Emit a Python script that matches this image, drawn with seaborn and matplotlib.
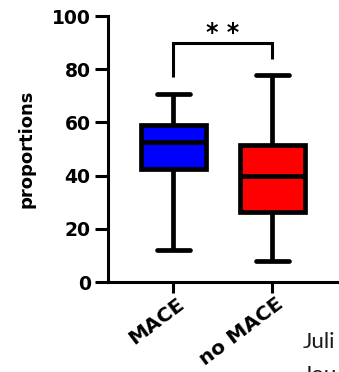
import numpy as np
import pandas as pd
import matplotlib
matplotlib.use("Agg")
import matplotlib.pyplot as plt
import matplotlib.transforms as mtransforms
import seaborn as sns

# ---- data (five-number summaries) ----
categories = ["MACE", "no MACE"]
minimum = [12.0, 8.0]
q1 = [42.3, 26.3]
median = [52.8, 40.0]
q3 = [59.0, 51.5]
maximum = [70.8, 77.7]
box_colors = ["#0000FF", "#FF0000"]
yticks = [0, 20, 40, 60, 80, 100]
y_label = "proportions"
sig_label = "* *"

# build a tiny table whose quartiles are exactly the summary values
rows = []
for i, c in enumerate(categories):
    for v in (minimum[i], q1[i], median[i], q3[i], maximum[i]):
        rows.append({"group": c, "value": v})
df = pd.DataFrame(rows)

sns.set_style("ticks")
plt.rcParams["font.family"] = ["DejaVu Sans"]
plt.rcParams["axes.labelcolor"] = "black"
plt.rcParams["text.color"] = "black"

fig = plt.figure(figsize=(3.39, 3.72), dpi=100)
ax = fig.add_axes([108 / 339, 90 / 372, 231 / 339, 266 / 372])

sns.boxplot(data=df, x="group", y="value", hue="group", palette=box_colors,
            order=categories, hue_order=categories, width=0.66, whis=(0, 100),
            linewidth=3.4, linecolor="black", saturation=1, showfliers=False,
            legend=False, ax=ax)

ax.set_xlim(-0.66, 1.674)
ax.set_ylim(0, 100)
ax.set_yticks(yticks)
ax.set_yticklabels([str(t) for t in yticks], fontsize=13.5, fontweight="bold")
ax.set_xlabel("")
ax.set_ylabel(y_label, fontsize=13, fontweight="bold", labelpad=12, color="black")

for side in ("top", "right"):
    ax.spines[side].set_visible(False)
for side in ("left", "bottom"):
    ax.spines[side].set_linewidth(2.2)
    ax.spines[side].set_color("black")
ax.tick_params(axis="y", length=9.5, width=2.2, pad=3, colors="black")
ax.tick_params(axis="x", length=8, width=2.2, pad=2, colors="black")

ax.set_xticks(range(len(categories)))
ax.set_xticklabels(categories, rotation=37, ha="right", va="top",
                   rotation_mode="anchor", fontsize=14.5, fontweight="bold")
off = mtransforms.ScaledTranslation(3 / 100, 2 / 100, fig.dpi_scale_trans)
for lab in ax.get_xticklabels():
    lab.set_transform(lab.get_transform() + off)

# significance bracket
ax.plot([0, 0, 1, 1], [77, 90, 90, 84], color="black", lw=2.2,
        solid_capstyle="butt", solid_joinstyle="miter", clip_on=False)
ax.text(0.5, 91, sig_label, ha="center", va="baseline", fontsize=17,
        fontweight="bold", color="black")

# cropped caption text at bottom right
fig.text(303 / 339, 1 - 348 / 372, "Juli", fontsize=16, family=["Lato", "DejaVu Sans"],
         color="#1a1a1a", ha="left", va="baseline")
fig.text(303 / 339, 1 - 381 / 372, "Jou", fontsize=16, family=["Lato", "DejaVu Sans"],
         color="#1a1a1a", ha="left", va="baseline")

fig.savefig("out.png", dpi=100)
